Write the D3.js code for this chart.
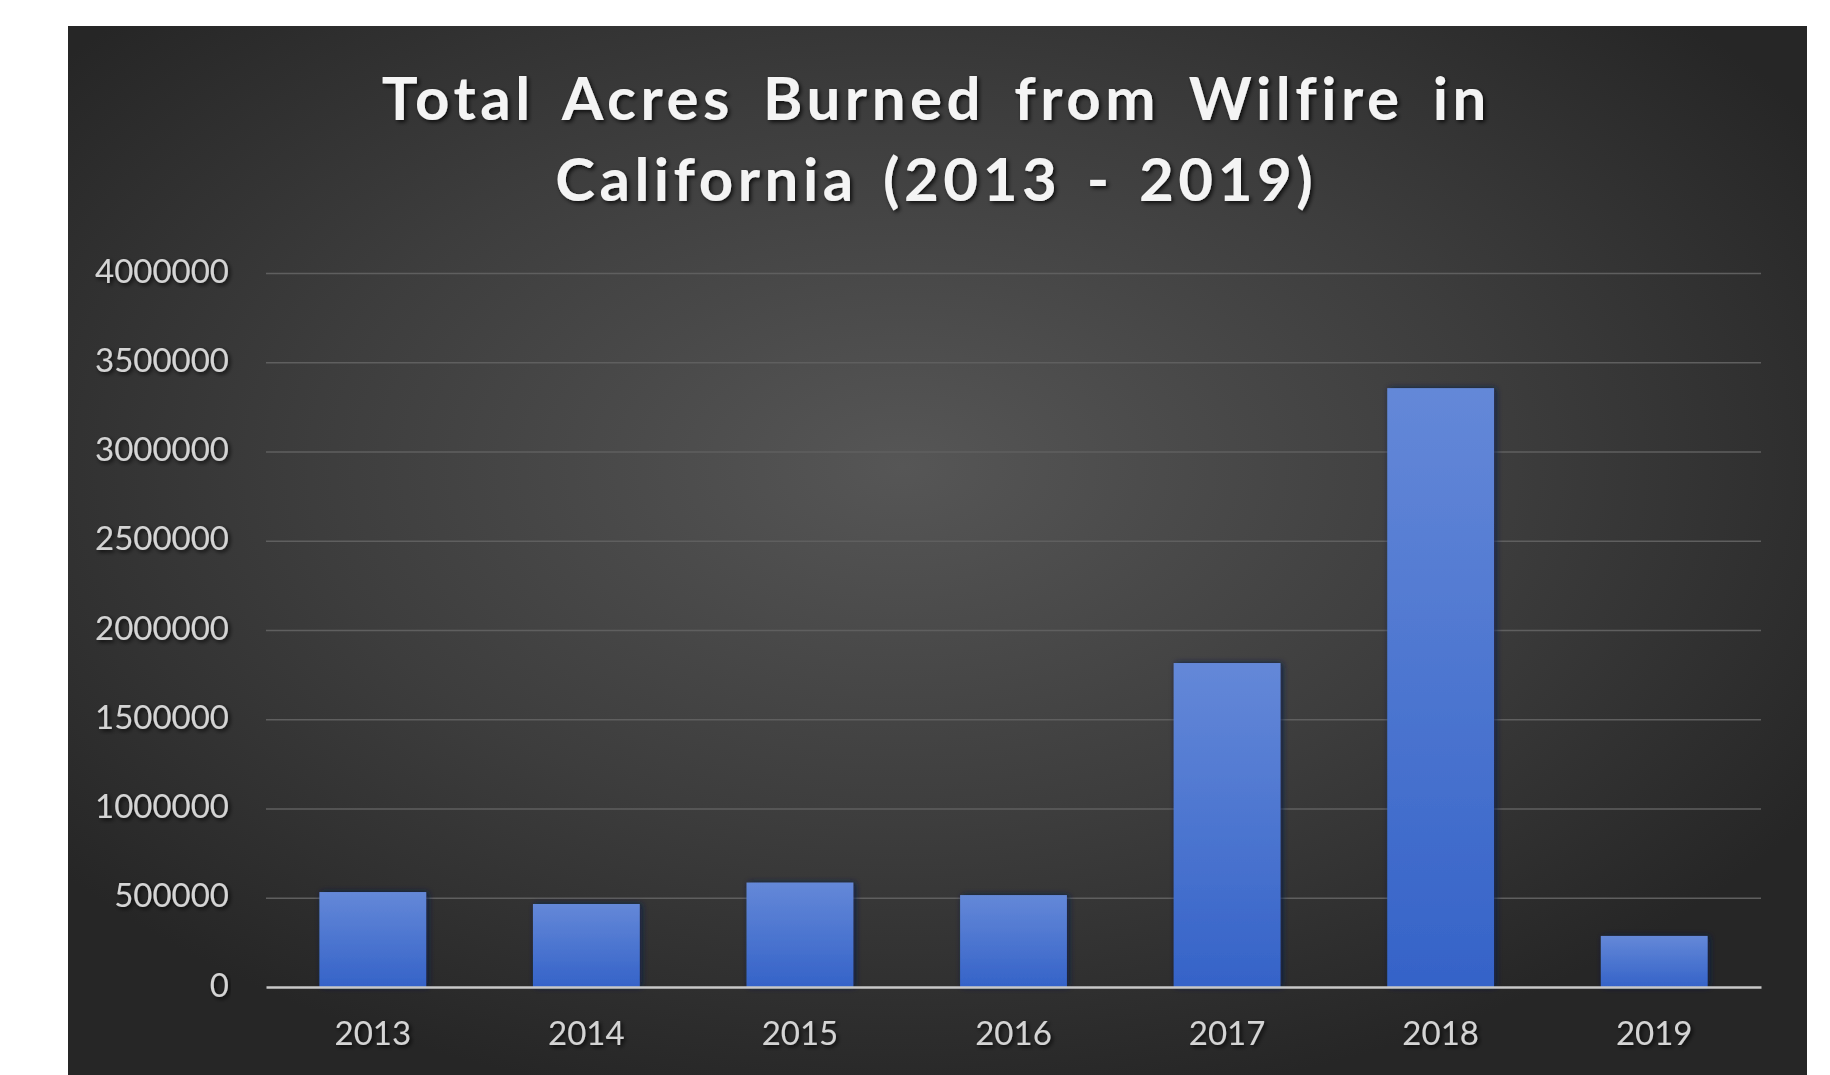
<!DOCTYPE html>
<html>
<head>
<meta charset="utf-8">
<script src="https://cdn.jsdelivr.net/npm/d3@7"></script>
<style>
  html, body { margin: 0; padding: 0; background: #ffffff; }
  svg { display: block; }
</style>
</head>
<body>
<svg id="chart" width="1830" height="1075"></svg>
<script>
// ---- data ----
const years = ["2013", "2014", "2015", "2016", "2017", "2018", "2019"];
const acresBurned = [532000, 465000, 585000, 515000, 1815000, 3355000, 286000];
const yTickValues = [0, 500000, 1000000, 1500000, 2000000, 2500000, 3000000, 3500000, 4000000];
const titleLines = ["Total Acres Burned from Wilfire in", "California (2013 - 2019)"];

// ---- layout ----
const W = 1830, H = 1075;
const panel = { x: 68, y: 26, w: 1739, h: 1049 };
const plot = { left: 266, right: 1761, top: 273, bottom: 987 };

const svg = d3.select("#chart");
const defs = svg.append("defs");

// background radial gradient
const bg = defs.append("radialGradient").attr("id", "bgGrad")
  .attr("cx", "48%").attr("cy", "42%").attr("r", "62%");
bg.append("stop").attr("offset", "0%").attr("stop-color", "#565656");
bg.append("stop").attr("offset", "55%").attr("stop-color", "#3d3d3d");
bg.append("stop").attr("offset", "100%").attr("stop-color", "#262626");

// bar gradient
const bar = defs.append("linearGradient").attr("id", "barGrad")
  .attr("x1", 0).attr("y1", 0).attr("x2", 0).attr("y2", 1);
bar.append("stop").attr("offset", "0%").attr("stop-color", "#6488d8");
bar.append("stop").attr("offset", "100%").attr("stop-color", "#3563c8");

// bar shadow
const bs = defs.append("filter").attr("id", "barShadow")
  .attr("x", "-20%").attr("y", "-20%").attr("width", "140%").attr("height", "140%");
bs.append("feDropShadow").attr("dx", 2).attr("dy", 0).attr("stdDeviation", 3)
  .attr("flood-color", "#0a1f4a").attr("flood-opacity", 0.9);

// text shadow
const ts = defs.append("filter").attr("id", "textShadow")
  .attr("x", "-10%").attr("y", "-30%").attr("width", "120%").attr("height", "160%");
ts.append("feDropShadow").attr("dx", 2).attr("dy", 2).attr("stdDeviation", 2)
  .attr("flood-color", "#000000").attr("flood-opacity", 0.8);

svg.append("rect")
  .attr("x", panel.x).attr("y", panel.y).attr("width", panel.w).attr("height", panel.h)
  .attr("fill", "url(#bgGrad)");

// scales
const x = d3.scaleBand().domain(years).range([plot.left, plot.right])
  .paddingInner(0.5).paddingOuter(0.25);
const y = d3.scaleLinear().domain([0, 4000000]).range([plot.bottom, plot.top]);

// gridlines
const grid = svg.append("g").attr("transform", `translate(${plot.left},0)`)
  .call(d3.axisLeft(y).tickValues(yTickValues.slice(1)).tickSize(-(plot.right - plot.left)).tickFormat(""));
grid.select(".domain").remove();
grid.selectAll("line").attr("stroke", "#5f5f5f").attr("stroke-width", 1.5);

// y labels
const yAxis = svg.append("g").attr("transform", `translate(${plot.left - 37},0)`)
  .call(d3.axisLeft(y).tickValues(yTickValues).tickSize(0).tickPadding(0).tickFormat(d3.format("d")));
yAxis.select(".domain").remove();
yAxis.selectAll("text")
  .attr("font-family", "Lato, 'Open Sans', sans-serif")
  .attr("font-size", 33)
  .attr("fill", "#d4d4d4")
  .attr("dy", null)
  .attr("y", 9)
  .attr("filter", "url(#textShadow)");

// bars
svg.append("g").selectAll("rect").data(years).join("rect")
  .attr("x", d => x(d))
  .attr("y", (d, i) => y(acresBurned[i]))
  .attr("width", x.bandwidth())
  .attr("height", (d, i) => y(0) - y(acresBurned[i]))
  .attr("fill", "url(#barGrad)")
  .attr("filter", "url(#barShadow)");

// x axis baseline + labels
const xAxis = svg.append("g").attr("transform", `translate(0,${plot.bottom})`)
  .call(d3.axisBottom(x).tickSize(0).tickPadding(0));
xAxis.select(".domain").attr("stroke", "#c8c8c8").attr("stroke-width", 2.5);
xAxis.selectAll("text")
  .attr("font-family", "Lato, 'Open Sans', sans-serif")
  .attr("font-size", 33)
  .attr("fill", "#d4d4d4")
  .attr("dy", null)
  .attr("y", 58)
  .attr("filter", "url(#textShadow)");

// title
const titleTargets = [ { y: 120, w: 1109 }, { y: 201, w: 762 } ];
const cx = 934;
const letterSp = 4.5;
titleLines.forEach((t, i) => {
  const el = svg.append("text")
    .attr("x", cx).attr("y", titleTargets[i].y)
    .attr("text-anchor", "middle")
    .attr("font-family", "Lato, 'Open Sans', sans-serif")
    .attr("font-weight", "bold")
    .attr("font-size", 60)
    .attr("fill", "#f4f4f4")
    .attr("letter-spacing", letterSp)
    .attr("filter", "url(#textShadow)")
    .text(t);
  const len = el.node().getComputedTextLength();
  const spaces = (t.match(/ /g) || []).length;
  const ws = Math.max(0, (titleTargets[i].w - len) / spaces);
  el.attr("word-spacing", ws);
  el.attr("x", cx + letterSp / 2);
});
</script>
</body>
</html>
